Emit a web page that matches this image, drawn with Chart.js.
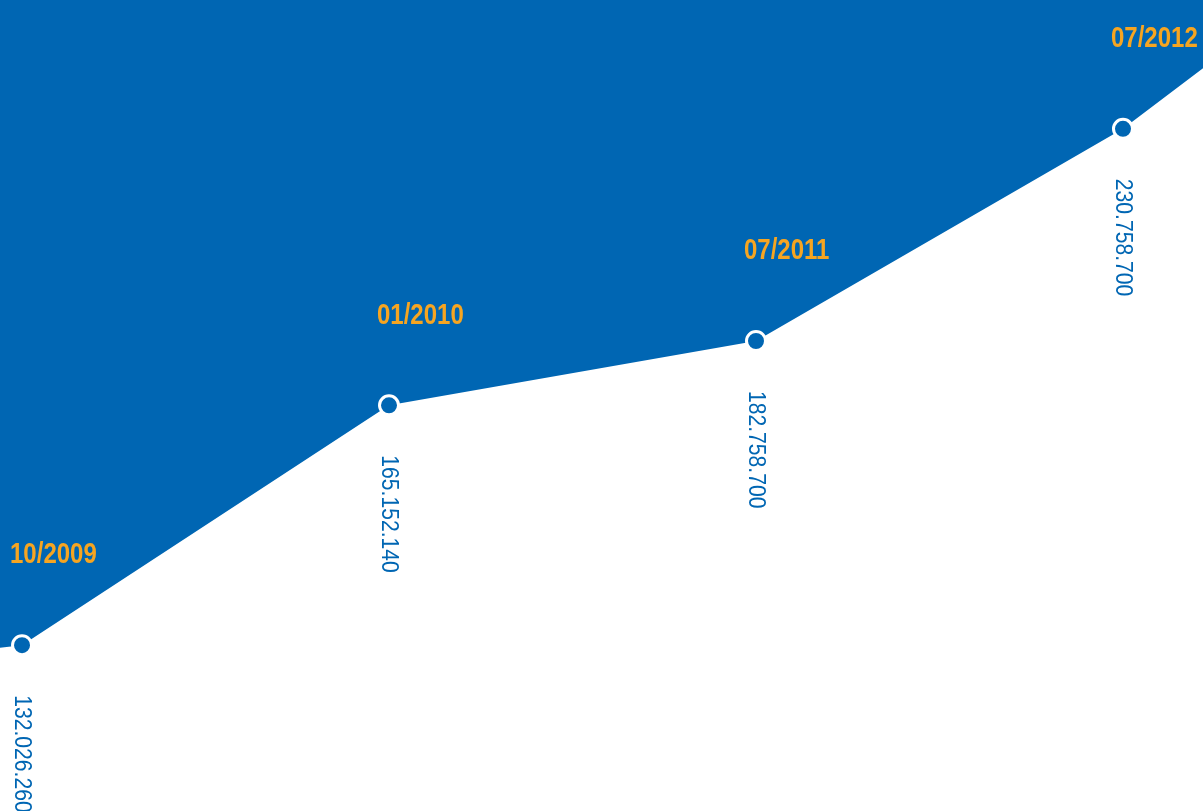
<!DOCTYPE html>
<html>
<head>
<meta charset="utf-8">
<script src="https://cdn.jsdelivr.net/npm/chart.js@4.4.0/dist/chart.umd.min.js"></script>
<style>
  html, body { margin: 0; padding: 0; background: #ffffff; }
  #wrap { width: 1203px; height: 811px; }
</style>
</head>
<body>
<div id="wrap"><canvas id="chart" width="1203" height="811"></canvas></div>
<script>
// dates shown above each point
const dates = ['10/2009', '01/2010', '07/2011', '07/2012'];
// values printed under each point
const values = [132026260, 165152140, 182758700, 230758700];
// height of the line at each point, in millions, as the picture draws it
const levels = [132.0, 177.9, 190.2, 230.8];
// where the line leaves the picture on the left and right
const edgeLevels = [131.5, 242.4];

const X_MIN = -0.06, X_MAX = 3.218;

const blue = '#0066b3';
const orange = '#f6a521';

const fmt = (n) => String(n).replace(/\B(?=(\d{3})+(?!\d))/g, '.');

// line data: edge point, the four dates, edge point
const points = [{ x: X_MIN, y: edgeLevels[0] }]
    .concat(levels.map((v, i) => ({ x: i, y: v })))
    .concat([{ x: X_MAX, y: edgeLevels[1] }]);

const labelPlugin = {
    id: 'pointLabels',
    afterDatasetsDraw(chart) {
        const ctx = chart.ctx;
        const meta = chart.getDatasetMeta(0);
        ctx.save();
        dates.forEach((d, i) => {
            const pt = meta.data[i + 1];
            // date above, squeezed to look condensed
            ctx.save();
            ctx.translate(pt.x - 12, pt.y - 90);
            ctx.scale(0.8, 1);
            ctx.fillStyle = orange;
            ctx.font = 'bold 30px "Liberation Sans", Arial, sans-serif';
            ctx.textAlign = 'left';
            ctx.textBaseline = 'middle';
            ctx.fillText(d, 0, 0);
            ctx.restore();

            // value below, turned to read downward
            ctx.save();
            ctx.translate(pt.x, pt.y + 50);
            ctx.rotate(Math.PI / 2);
            ctx.scale(0.88, 1);
            ctx.fillStyle = blue;
            ctx.font = '24px "Liberation Sans", Arial, sans-serif';
            ctx.textAlign = 'left';
            ctx.textBaseline = 'middle';
            ctx.fillText(fmt(values[i]), 0, 0);
            ctx.restore();
        });
        ctx.restore();
    }
};

new Chart(document.getElementById('chart').getContext('2d'), {
    type: 'line',
    data: {
        datasets: [{
            data: points,
            fill: 'end',
            backgroundColor: blue,
            borderWidth: 0,
            borderColor: blue,
            tension: 0,
            pointRadius: points.map((p, i) => (i === 0 || i === points.length - 1) ? 0 : 9.5),
            pointBackgroundColor: blue,
            pointBorderColor: '#ffffff',
            pointBorderWidth: 3
        }]
    },
    options: {
        responsive: false,
        animation: false,
        layout: { padding: 0 },
        plugins: {
            legend: { display: false },
            tooltip: { enabled: false }
        },
        scales: {
            x: { type: 'linear', min: X_MIN, max: X_MAX, display: false },
            y: { type: 'linear', min: 100.27, max: 255.45, display: false }
        }
    },
    plugins: [labelPlugin]
});
</script>
</body>
</html>
